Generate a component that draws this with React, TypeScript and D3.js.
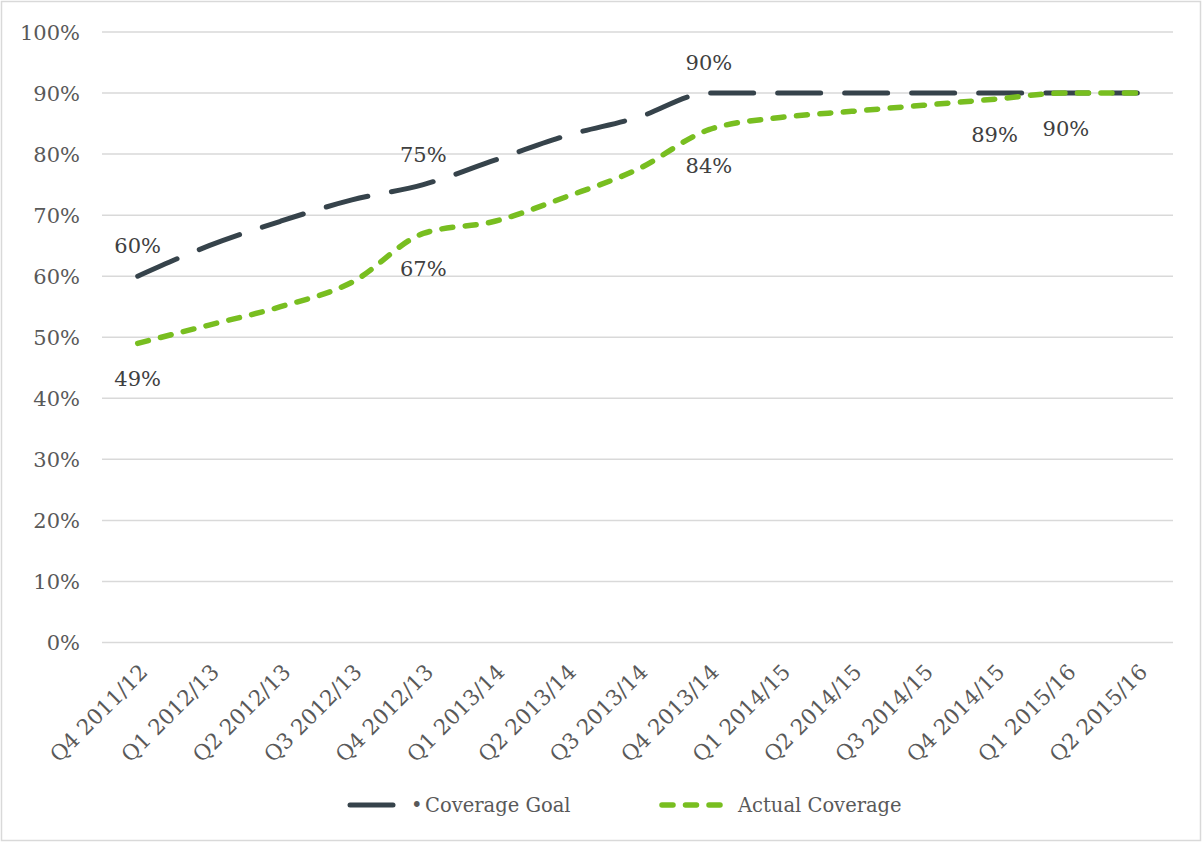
import React from 'react';
import * as d3 from 'd3';

const categories = [
  'Q4 2011/12', 'Q1 2012/13', 'Q2 2012/13', 'Q3 2012/13', 'Q4 2012/13',
  'Q1 2013/14', 'Q2 2013/14', 'Q3 2013/14', 'Q4 2013/14',
  'Q1 2014/15', 'Q2 2014/15', 'Q3 2014/15', 'Q4 2014/15',
  'Q1 2015/16', 'Q2 2015/16',
];
const goalValues = [60, 65, 69, 72.5, 75, 79, 83, 86, 90, 90, 90, 90, 90, 90, 90];
const actualValues = [49, 52, 55, 59, 67, 69, 73, 77.5, 84, 86, 87, 88, 89, 90, 90];
const yTicks = [0, 10, 20, 30, 40, 50, 60, 70, 80, 90, 100];
const seriesNames = ['Coverage Goal', 'Actual Coverage'];
// which points carry a data label (goal: above, actual: below)
const goalLabelIdx = [0, 4, 8];
const actualLabelIdx = [0, 4, 8, 12, 13];

const W = 1202;
const H = 842;
const FONT = '"DejaVu Serif", serif';
const GOAL_COLOR = '#36434B';
const ACTUAL_COLOR = '#78BE20';
const GRID = '#D9D9D9';
const TEXT = '#595959';
const LABEL = '#404040';

export default function App() {
  const x = d3.scaleBand<string>().domain(categories).range([102, 1173]);
  const cx = (c: string) => (x(c) as number) + x.bandwidth() / 2;
  const y = d3.scaleLinear().domain([0, 100]).range([642.5, 32]);

  const line = d3
    .line<number>()
    .x((_, i) => cx(categories[i]))
    .y((d) => y(d))
    .curve(d3.curveMonotoneX);

  const goalDash = '43 24';
  const actualDash = '11 12.5';

  return (
    <svg
      width={W}
      height={H}
      style={{ position: 'absolute', left: 0, top: 0, background: '#fff' }}
      fontFamily={FONT}
    >
      <rect x={1.5} y={1.5} width={W - 3} height={H - 3} fill="#fff" stroke={GRID} strokeWidth={1.5} />
      {yTicks.map((t) => (
        <g key={t}>
          <line x1={102} x2={1173} y1={y(t)} y2={y(t)} stroke={GRID} strokeWidth={1.5} />
          <text x={80} y={y(t)} dy="0.36em" textAnchor="end" fontSize={21} fill={TEXT}>
            {t}%
          </text>
        </g>
      ))}
      {categories.map((c) => (
        <text
          key={c}
          transform={`translate(${cx(c) + 6},${668}) rotate(-45)`}
          textAnchor="end"
          dy="0.35em"
          fontSize={21.5}
          fill={TEXT}
        >
          {c}
        </text>
      ))}
      <path
        d={line(goalValues) || ''}
        fill="none"
        stroke={GOAL_COLOR}
        strokeWidth={5}
        strokeLinecap="round"
        strokeDasharray={goalDash}
      />
      <path
        d={line(actualValues) || ''}
        fill="none"
        stroke={ACTUAL_COLOR}
        strokeWidth={5.5}
        strokeLinecap="round"
        strokeDasharray={actualDash}
      />
      {goalLabelIdx.map((i) => (
        <text
          key={'g' + i}
          x={cx(categories[i])}
          y={y(goalValues[i]) - 23}
          textAnchor="middle"
          fontSize={21}
          fill={LABEL}
        >
          {goalValues[i]}%
        </text>
      ))}
      {actualLabelIdx.map((i) => (
        <text
          key={'a' + i}
          x={cx(categories[i])}
          y={y(actualValues[i]) + 43}
          textAnchor="middle"
          fontSize={21}
          fill={LABEL}
        >
          {actualValues[i]}%
        </text>
      ))}
      {/* legend */}
      <g>
        <line x1={350} x2={393} y1={805} y2={805} stroke={GOAL_COLOR} strokeWidth={5} strokeLinecap="round" strokeDasharray={goalDash} />
        <text x={411} y={805} dy="0.36em" fontSize={19.5} fill={TEXT}>•</text>
        <text x={425} y={805} dy="0.36em" fontSize={19.5} fill={TEXT}>{seriesNames[0]}</text>
        <line x1={662} x2={722} y1={805} y2={805} stroke={ACTUAL_COLOR} strokeWidth={5.5} strokeLinecap="round" strokeDasharray={actualDash} />
        <text x={738} y={805} dy="0.36em" fontSize={19.5} fill={TEXT}>{seriesNames[1]}</text>
      </g>
    </svg>
  );
}
